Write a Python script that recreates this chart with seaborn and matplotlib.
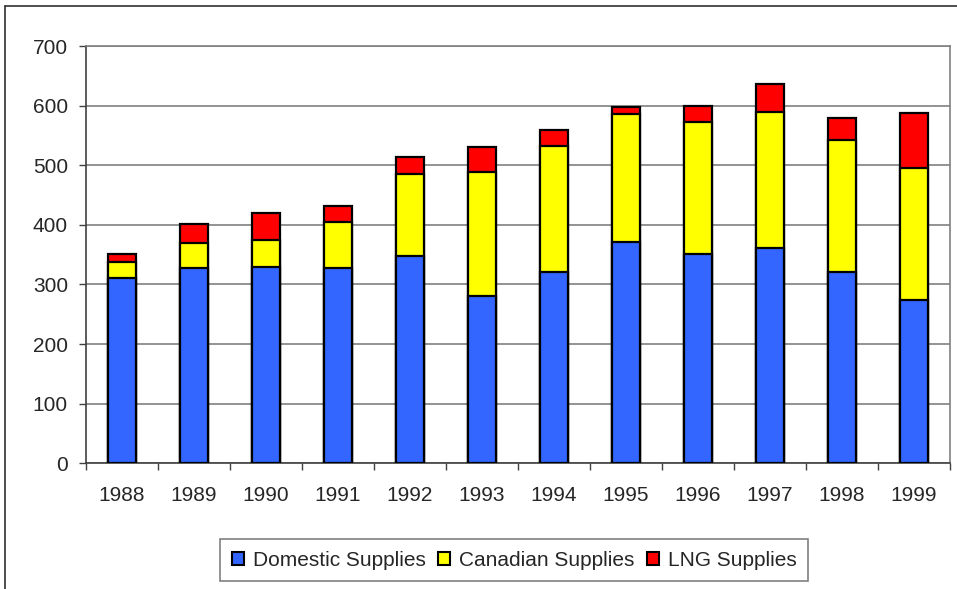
import numpy as np
import pandas as pd
import matplotlib
matplotlib.use("Agg")
import matplotlib.pyplot as plt
from matplotlib.patches import Patch
from matplotlib.lines import Line2D
import seaborn as sns

# Values
years = ["1988", "1989", "1990", "1991", "1992", "1993",
         "1994", "1995", "1996", "1997", "1998", "1999"]
domestic = [310, 328, 330, 328, 348, 281, 321, 372, 351, 361, 321, 274]
canadian = [27, 41, 44, 77, 137, 208, 211, 214, 221, 228, 221, 222]
lng = [14, 32, 46, 26, 28, 41, 27, 12, 28, 48, 38, 91]

df = pd.DataFrame({"year": years, "Domestic Supplies": domestic,
                   "Canadian Supplies": canadian, "LNG Supplies": lng})
df["dom_can"] = df["Domestic Supplies"] + df["Canadian Supplies"]
df["total"] = df["dom_can"] + df["LNG Supplies"]

sns.set_style("white")
plt.rcParams["font.family"] = ["Liberation Sans", "DejaVu Sans"]

fig = plt.figure(figsize=(9.57, 5.89), dpi=100)
ax = fig.add_axes([86 / 957, 1 - 463.3 / 589, (950 - 86) / 957, (463.3 - 46) / 589])

blue, yellow, red = "#3366FF", "#FFFF00", "#FF0000"
bar_kw = dict(edgecolor="black", linewidth=1.6, width=0.4, saturation=1, zorder=3)

# Stacked look by drawing cumulative totals from the top down
sns.barplot(data=df, x="year", y="total", color=red, ax=ax, **bar_kw)
sns.barplot(data=df, x="year", y="dom_can", color=yellow, ax=ax, **bar_kw)
sns.barplot(data=df, x="year", y="Domestic Supplies", color=blue, ax=ax, **bar_kw)

ax.set_ylim(0, 700)
ax.set_xlim(-0.5, 11.5)
ax.set_yticks(range(0, 701, 100))
ax.yaxis.grid(True, color="#808080", linewidth=1.2, zorder=0)
ax.set_axisbelow(True)
ax.set_xlabel("")
ax.set_ylabel("")

ax.set_xticks(np.arange(len(years)))
ax.set_xticklabels(years)
ax.set_xticks(np.arange(-0.5, len(years), 1), minor=True)
ax.tick_params(axis="x", which="major", length=0, pad=16, labelsize=15)
ax.tick_params(axis="x", which="minor", length=5, width=1, color="#404040", direction="out")
ax.tick_params(axis="y", length=5, width=1, color="#404040", direction="out", pad=8, labelsize=15)
ax.xaxis.set_ticks_position("bottom")
ax.yaxis.set_ticks_position("left")

for side in ["top", "right"]:
    ax.spines[side].set_color("#808080")
    ax.spines[side].set_linewidth(1.2)
for side in ["left", "bottom"]:
    ax.spines[side].set_color("#404040")
    ax.spines[side].set_linewidth(1.2)

handles = [Patch(facecolor=c, edgecolor="black", linewidth=1.5, label=l)
           for c, l in zip([blue, yellow, red],
                           ["Domestic Supplies", "Canadian Supplies", "LNG Supplies"])]
leg = fig.legend(handles=handles, loc="center", bbox_to_anchor=(514 / 957, 1 - 560 / 589),
                 ncol=3, fontsize=15, frameon=True, fancybox=False,
                 handlelength=0.6, handleheight=0.6, handletextpad=0.4, columnspacing=0.6,
                 borderpad=0.55)
leg.get_frame().set_edgecolor("#606060")
leg.get_frame().set_linewidth(1.2)

# outer chart border (left and top edges visible)
fig.add_artist(Line2D([5 / 957, 5 / 957], [0, 1 - 6 / 589], transform=fig.transFigure,
                      color="#303030", linewidth=1.2))
fig.add_artist(Line2D([5 / 957, 1], [1 - 6 / 589, 1 - 6 / 589], transform=fig.transFigure,
                      color="#303030", linewidth=1.2))

fig.savefig("out.png", dpi=100)
